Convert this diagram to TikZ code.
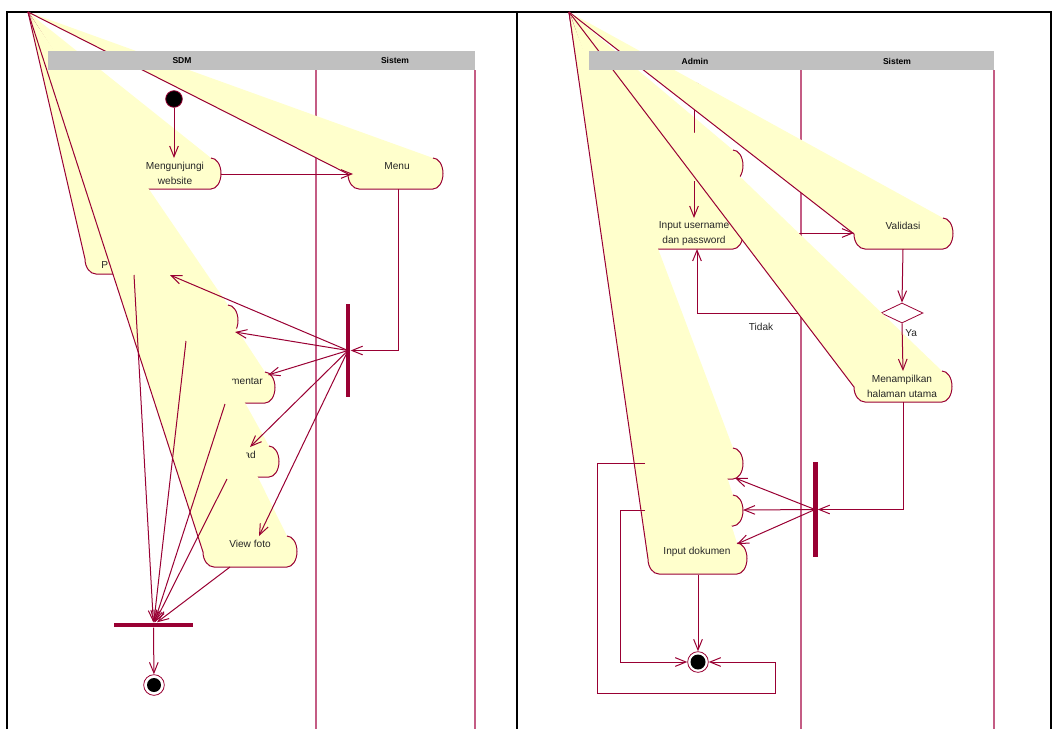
\documentclass[tikz,border=0pt]{standalone}
\usepackage{fontspec}
\setmainfont{Liberation Sans}
\usetikzlibrary{arrows.meta,shapes.geometric,positioning}

\definecolor{roseline}{HTML}{990033}
\definecolor{rosefill}{HTML}{FFFFCC}
\definecolor{laneline}{HTML}{C45C84}
\definecolor{headgray}{HTML}{C0C0C0}

% activity whose top-left corner got pulled to the apex
\newcommand{\actwedge}[4]{%
  \fill[rosefill] (#1) -- ({#3-10},#4)
    arc[start angle=-90,end angle=90,x radius=10,y radius=15.5]
    -- ({#2+11},{#4+31})
    arc[start angle=90,end angle=180,x radius=11,y radius=15] -- cycle;
  \draw[wire] ({#3-10},#4)
    arc[start angle=-90,end angle=90,x radius=10,y radius=15.5]
    -- ({#2+11},{#4+31})
    arc[start angle=90,end angle=180,x radius=11,y radius=15] -- (#1);
}

\tikzset{
  flow/.style={draw=roseline, line width=0.75pt, -{Straight Barb[length=8pt,width=6.5pt]}},
  wire/.style={draw=roseline, line width=0.75pt},
  lane/.style={draw=laneline, line width=0.8pt},
  barnode/.style={fill=roseline, inner sep=0pt},
  startdot/.style={circle, fill=black, draw=roseline, line width=0.6pt, inner sep=0pt, minimum size=12.5pt},
  enddot/.style={circle, fill=white, draw=roseline, line width=0.6pt, inner sep=0pt, minimum size=15.5pt},
  acttext/.style={font=\fontsize{7.6}{11.25}\selectfont, text=black!85, align=center, inner sep=0pt},
  headtext/.style={font=\fontsize{6.4}{7}\selectfont\bfseries, inner sep=0pt},
  guard/.style={font=\fontsize{7.6}{9}\selectfont, text=black!85, inner sep=0pt},
}

\begin{document}
\begin{tikzpicture}[x=0.75pt,y=-0.75pt]
\useasboundingbox (0,0) rectangle (1057,729);

% table frame
\draw[line width=1.5pt] (7,729) -- (7,12) -- (1051,12) -- (1051,729);
\draw[line width=1.5pt] (517,12) -- (517,729);

% swimlane lines
\draw[lane] (316,70) -- (316,729);
\draw[lane] (475,70) -- (475,729);
\draw[lane] (801,70) -- (801,729);
\draw[lane] (994,70) -- (994,729);

% ---------------- SDM diagram ----------------
\coordinate (apexL) at (28,12);
\coordinate (visit-in) at (174,158);
\coordinate (visit-out) at (221,174);
\coordinate (menu-in) at (353,174);
\coordinate (menu-out) at (398,189);
\coordinate (search-in) at (170,275);
\coordinate (search-out) at (134,275);
\coordinate (share-in) at (235,332);
\coordinate (share-out) at (186,341);
\coordinate (comment-in) at (268,375);
\coordinate (comment-out) at (225,404);
\coordinate (download-in) at (250,447);
\coordinate (download-out) at (227,479);
\coordinate (photo-in) at (259,536);
\coordinate (photo-out) at (230,567);

\node[startdot] (startL) at (174,99) {};

\actwedge{apexL}{132}{221}{158}
\node[acttext] (visit) at (175,173.5) {Mengunjungi\\website};
\actwedge{apexL}{348}{443}{158}
\node[acttext] (menu) at (397,166) {Menu};
\actwedge{apexL}{85}{185}{243}
\node[acttext, anchor=west] (search) at (101,265) {P};
\actwedge{apexL}{142}{238}{305}
\actwedge{apexL}{200}{275}{372}
\node[acttext, anchor=east] (comment) at (263,381) {mentar};
\actwedge{apexL}{200}{279}{446}
\node[acttext, anchor=east] (download) at (256,455) {ad};
\actwedge{apexL}{203}{297}{536}
\node[acttext] (photo) at (250,544) {View foto};

% fork, join, end
\node[barnode, minimum width=3.6pt, minimum height=69.75pt] (forkL) at (348,350.5) {};
\node[barnode, minimum width=59.25pt, minimum height=3.6pt] (joinL) at (153.5,625) {};
\node[enddot] (endL) at (154,685) {};
\fill[black] (endL) circle[radius=7];

\draw[flow] (startL) -- (visit-in);
\draw[flow] (visit-out) -- (menu-in);
\draw[flow] (menu-out) |- (forkL);
\draw[flow] (forkL.center) -- (search-in);
\draw[flow] (forkL.center) -- (share-in);
\draw[flow] (forkL.center) -- (comment-in);
\draw[flow] (forkL.center) -- (download-in);
\draw[flow] (forkL.center) -- (photo-in);
\draw[flow] (search-out) -- (joinL);
\draw[flow] (share-out) -- (joinL);
\draw[flow] (comment-out) -- (joinL);
\draw[flow] (download-out) -- (joinL);
\draw[flow] (photo-out) -- (joinL);
\draw[flow] (joinL) -- (endL);

% ---------------- Admin diagram ----------------
\coordinate (apexR) at (569,12);
\coordinate (login-in) at (694,150);
\coordinate (login-out) at (694,181);
\coordinate (input-in) at (694,218);
\coordinate (input-out) at (743,233);
\coordinate (input-back) at (697,249);
\coordinate (check-in) at (854,233);
\coordinate (check-out) at (903,249);
\coordinate (home-in) at (903,371);
\coordinate (home-out) at (903,402);
\coordinate (doc1-in) at (735,478);
\coordinate (doc1-out) at (645,463);
\coordinate (doc2-in) at (743,510);
\coordinate (doc2-out) at (645,510);
\coordinate (upload-in) at (737,544);
\coordinate (upload-out) at (698,575);

\node[startdot] (startR) at (694,91) {};
\actwedge{apexR}{645}{743}{150}
\draw[flow] (startR) -- (login-in);
\actwedge{apexR}{645}{743}{218}
\node[acttext] (input) at (694,233.5) {Input username\\dan password};
\node[diamond, draw=roseline, fill=white, line width=0.6pt, inner sep=0pt,
      minimum width=31.5pt, minimum height=15pt] (decide) at (902,313) {};
\actwedge{apexR}{854}{953}{218}
\node[acttext] (check) at (903,226) {Validasi};
\draw[flow] (input-out) -- (check-in);
\draw[flow] (decide.west) -| (input-back);
\actwedge{apexR}{854}{952}{371}
\node[acttext] (home) at (902,386.5) {Menampilkan\\halaman utama};
\actwedge{apexR}{645}{743}{448}
\actwedge{apexR}{645}{743}{495}
\actwedge{apexR}{648}{747}{543}
\node[acttext] (upload) at (697,552) {Input dokumen};

\node[barnode, minimum width=3.75pt, minimum height=71.25pt] (forkR) at (815,509.5) {};
\node[enddot] (endR) at (698,662) {};
\fill[black] (endR) circle[radius=7.5];

\draw[flow] (login-out) -- (input-in);
\draw[flow] (check-out) -- (decide.north);
\draw[flow] (decide.south) -- (home-in);
\draw[flow] (home-out) |- (forkR);
\draw[flow] (forkR.center) -- (doc1-in);
\draw[flow] (forkR.center) -- (doc2-in);
\draw[flow] (forkR.center) -- (upload-in);
\draw[flow] (upload-out) -- (endR);
\draw[flow] (doc1-out) -- ++(-48,0) |- (775,693) |- (endR);
\draw[flow] (doc2-out) -- ++(-25,0) |- (endR);

\node[guard] (no) at (761,327) {Tidak};
\node[guard, anchor=west] (yes) at (905,333) {Ya};

% lane headers
\fill[headgray] (48,51) rectangle (475,70);
\node[headtext] (laneSDM) at (182,60.5) {SDM};
\node[headtext] (laneSysL) at (395,60.5) {Sistem};
\fill[headgray] (589,51) rectangle (994,70);
\node[headtext] (laneAdmin) at (695,61) {Admin};
\node[headtext] (laneSysR) at (897,61) {Sistem};
\end{tikzpicture}
\end{document}
